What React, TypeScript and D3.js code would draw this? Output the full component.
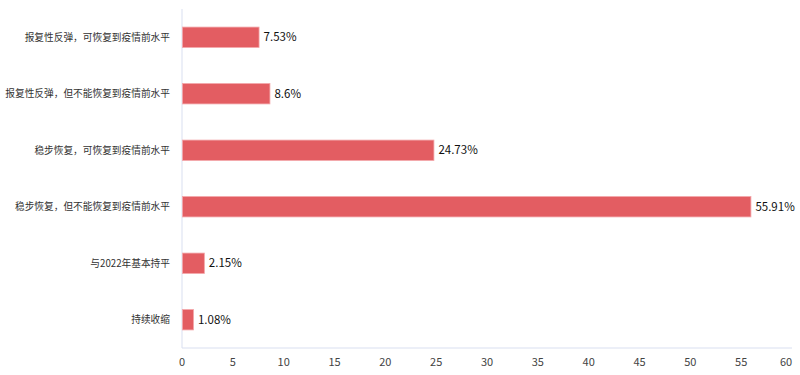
import React from "react";
import * as d3 from "d3";

const categories = [
  "报复性反弹，可恢复到疫情前水平",
  "报复性反弹，但不能恢复到疫情前水平",
  "稳步恢复，可恢复到疫情前水平",
  "稳步恢复，但不能恢复到疫情前水平",
  "与2022年基本持平",
  "持续收缩",
];
const values = [7.53, 8.6, 24.73, 55.91, 2.15, 1.08];
const valueLabels = ["7.53%", "8.6%", "24.73%", "55.91%", "2.15%", "1.08%"];
const xTicks = [0, 5, 10, 15, 20, 25, 30, 35, 40, 45, 50, 55, 60];

const W = 800;
const H = 375;
const margin = { left: 182, right: 8, top: 9, bottom: 27 };

export default function App() {
  const x = d3.scaleLinear().domain([0, 60]).range([margin.left, W - margin.right]);
  const y = d3
    .scaleBand<string>()
    .domain(categories)
    .range([margin.top, H - margin.bottom])
    .paddingInner(0.64)
    .paddingOuter(0.32);
  const font = "'Noto Sans CJK SC', 'Noto Sans', sans-serif";
  return (
    <svg
      width={W}
      height={H}
      style={{ position: "absolute", left: 0, top: 0, background: "#fff" }}
      fontFamily={font}
    >
      <line x1={x(0)} x2={x(0)} y1={margin.top} y2={H - margin.bottom} stroke="#d9dff0" strokeWidth={1} />
      <line x1={x(0)} x2={x(60)} y1={H - margin.bottom} y2={H - margin.bottom} stroke="#d9dff0" strokeWidth={1} />
      {xTicks.map((t) => (
        <text
          key={t}
          x={t === 60 ? x(t) - 6 : x(t)}
          y={H - margin.bottom + 14}
          dy="0.35em"
          textAnchor="middle"
          fontSize={11}
          fill="#444"
        >
          {t}
        </text>
      ))}
      {categories.map((c, i) => {
        const yy = y(c)!;
        const bw = y.bandwidth();
        return (
          <g key={c}>
            <text
              x={margin.left - 12}
              y={yy + bw / 2}
              dy="0.35em"
              textAnchor="end"
              fontSize={9.7}
              fill="#333"
            >
              {c}
            </text>
            <rect
              x={x(0) + 0.5}
              y={yy}
              width={x(values[i]) - x(0)}
              height={bw}
              fill="#e35d62"
              stroke="#f3a5a8"
              strokeWidth={0.8}
            />
            <text
              x={x(values[i]) + 5}
              y={yy + bw / 2}
              dy="0.35em"
              fontSize={11.5}
              fill="#111"
            >
              {valueLabels[i]}
            </text>
          </g>
        );
      })}
    </svg>
  );
}
